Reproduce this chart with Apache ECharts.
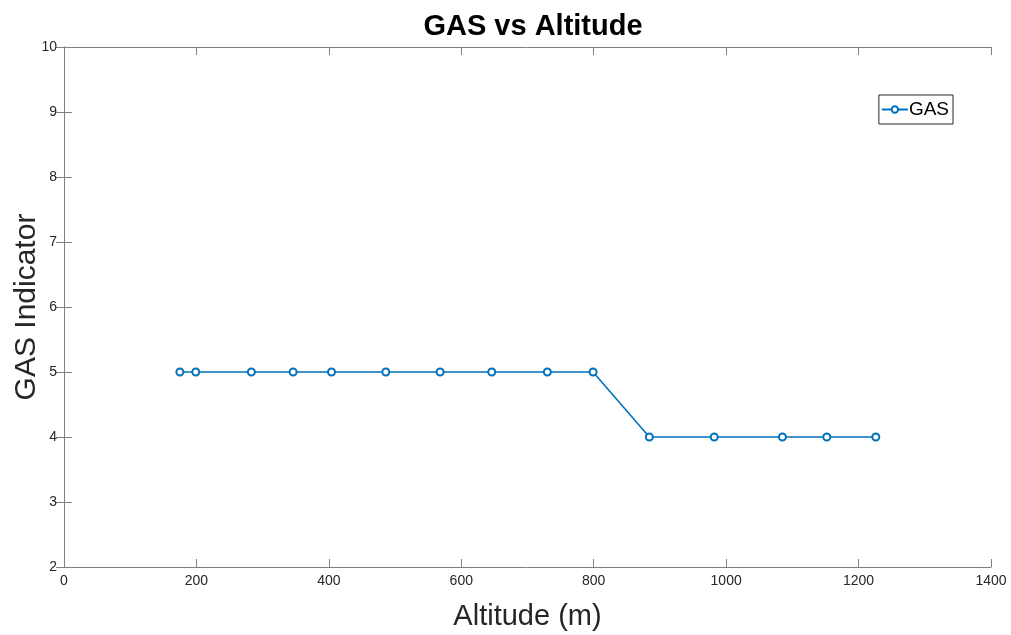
<!DOCTYPE html>
<html>
<head>
<meta charset="utf-8">
<script src="https://cdn.jsdelivr.net/npm/echarts@6/dist/echarts.min.js"></script>
<style>
  html, body { margin: 0; padding: 0; background: #fff; }
  #chart { width: 1011px; height: 635px; }
</style>
</head>
<body>
<div id="chart"></div>
<script>
// Altitude readings (m) and the GAS indicator level at each
const altitude = [175, 199, 283, 346, 404, 486, 568, 646, 730, 799, 884, 982, 1085, 1152, 1226];
const gasLevel = [5, 5, 5, 5, 5, 5, 5, 5, 5, 5, 4, 4, 4, 4, 4];
const xTicks = { min: 0, max: 1400, interval: 200 };
const yTicks = { min: 2, max: 10, interval: 1 };

const points = altitude.map((a, i) => [a, gasLevel[i]]);
const axisColor = '#808080';
const labelColor = '#262626';
const lineBlue = '#0072BD';
const fontFamily = 'Liberation Sans, Arial, sans-serif';

const chart = echarts.init(document.getElementById('chart'));
const frameAxis = (extra) => Object.assign({
  type: 'value',
  axisLine: { show: true, lineStyle: { color: axisColor, width: 1 } },
  axisTick: { show: true, inside: true, length: 8, lineStyle: { color: axisColor } },
  splitLine: { show: false },
  axisLabel: { show: false }
}, extra);
const tickLabel = { show: true, fontFamily, fontSize: 14, color: labelColor, margin: 7, formatter: (v) => String(v) };

chart.setOption({
  animation: false,
  backgroundColor: '#fff',
  title: {
    text: 'GAS vs Altitude',
    left: 528, top: 7, textAlign: 'center',
    textStyle: { fontFamily, fontSize: 29, fontWeight: 'bold', color: '#000' }
  },
  legend: {
    data: ['GAS'],
    right: 58, top: 95,
    orient: 'vertical',
    backgroundColor: '#fff',
    borderColor: '#262626', borderWidth: 1, borderRadius: 0,
    padding: [5, 4, 5, 2],
    itemWidth: 26, itemHeight: 8, itemGap: 0,
    textStyle: { fontFamily, fontSize: 19, color: '#000', padding: [0, 0, 0, -4] }
  },
  grid: { left: 64, top: 47, width: 927, height: 520, containLabel: false, outerBoundsMode: 'none' },
  xAxis: [
    frameAxis(Object.assign({}, xTicks, {
      position: 'bottom',
      name: 'Altitude (m)', nameLocation: 'middle', nameGap: 35, nameMoveOverlap: false,
      nameTextStyle: { fontFamily, fontSize: 29, color: labelColor },
      axisLabel: tickLabel
    })),
    frameAxis(Object.assign({}, xTicks, { position: 'top' }))
  ],
  yAxis: [
    frameAxis(Object.assign({}, yTicks, {
      position: 'left',
      name: 'GAS Indicator', nameLocation: 'middle', nameGap: 22, nameMoveOverlap: false,
      nameTextStyle: { fontFamily, fontSize: 30, color: labelColor },
      axisLabel: tickLabel
    })),
    frameAxis(Object.assign({}, yTicks, { position: 'right' }))
  ],
  series: [{
    name: 'GAS',
    type: 'line',
    data: points,
    symbol: 'emptyCircle',
    symbolSize: 7,
    color: lineBlue,
    lineStyle: { width: 1.6, color: lineBlue },
    itemStyle: { color: lineBlue, borderColor: lineBlue, borderWidth: 1.6 }
  }]
});
</script>
</body>
</html>
